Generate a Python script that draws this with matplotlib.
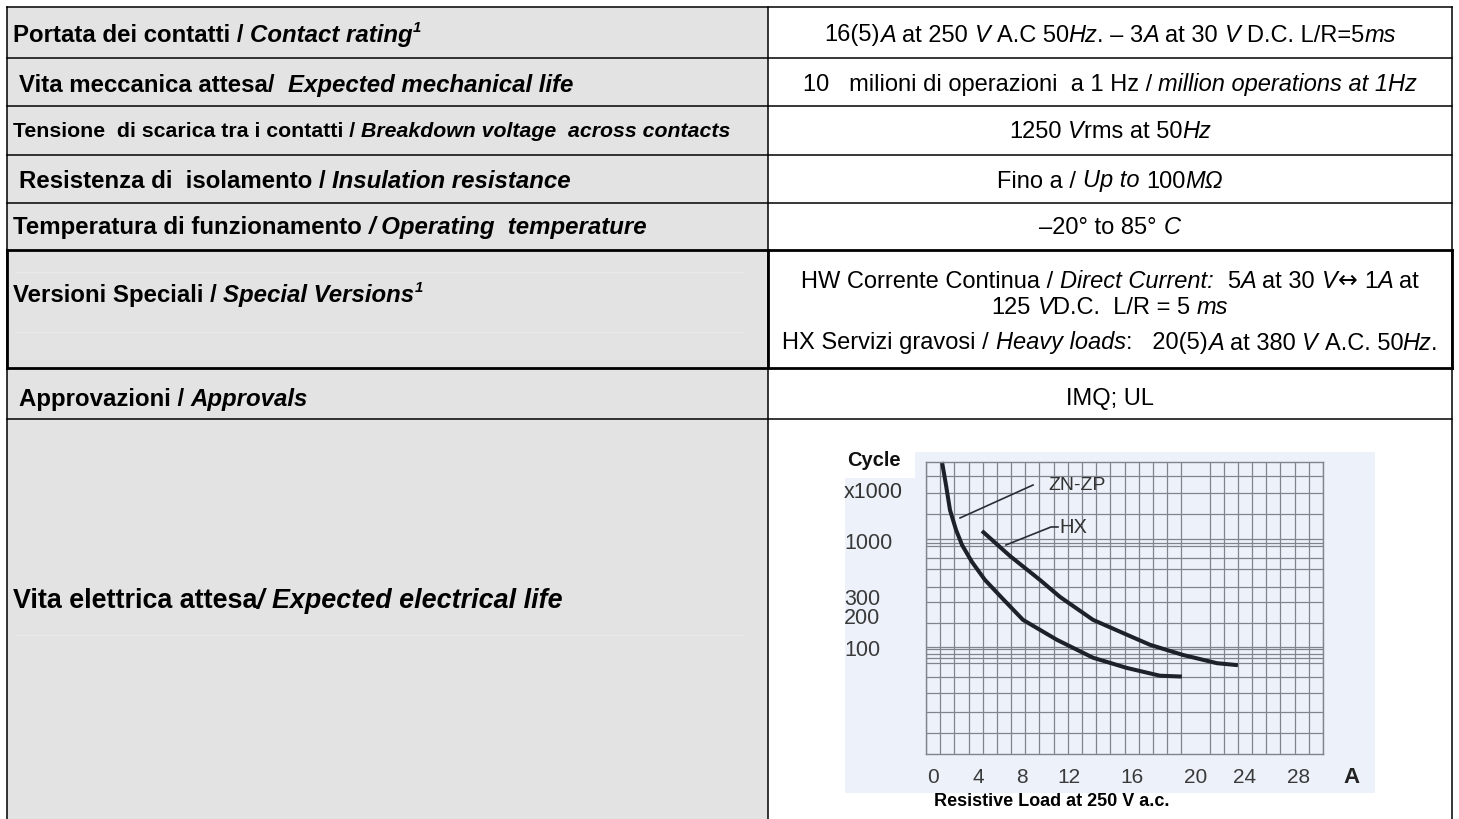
import matplotlib
matplotlib.use("Agg")
import matplotlib.pyplot as plt
from matplotlib.font_manager import FontProperties
from matplotlib.patches import Rectangle
from matplotlib.ticker import NullFormatter

FAM = ["Liberation Sans", "DejaVu Sans"]

# ---------------- table text (runs: text, style n=normal i=italic sup=superscript arr=symbol) ----------------
left_rows = [
    [("Portata dei contatti / ", "n"), ("Contact rating", "i"), ("1", "sup")],
    [("Vita meccanica attesa/  ", "n"), ("Expected mechanical life", "i")],
    [("Tensione  di scarica tra i contatti / ", "n"), ("Breakdown voltage  across contacts", "i")],
    [("Resistenza di  isolamento / ", "n"), ("Insulation resistance", "i")],
    [("Temperatura di funzionamento ", "n"), ("/ Operating  temperature", "i")],
    [("Versioni Speciali / ", "n"), ("Special Versions", "i"), ("1", "sup")],
    [("Approvazioni / ", "n"), ("Approvals", "i")],
    [("Vita elettrica attesa", "n"), ("/ Expected electrical life", "i")],
]

right_rows = [
    [[("16(5)", "n"), ("A", "i"), (" at 250 ", "n"), ("V", "i"), (" A.C 50", "n"), ("Hz", "i"),
      (". \u2013 3", "n"), ("A", "i"), (" at 30 ", "n"), ("V", "i"), (" D.C. L/R=5", "n"), ("ms", "i")]],
    [[("10   milioni di operazioni  a 1 Hz / ", "n"), ("million operations at 1Hz", "i")]],
    [[("1250 ", "n"), ("V", "i"), ("rms at 50", "n"), ("Hz", "i")]],
    [[("Fino a / ", "n"), ("Up to", "i"), (" 100", "n"), ("M\u03a9", "i")]],
    [[("\u201320\u00b0 to 85\u00b0 ", "n"), ("C", "i")]],
    [[("HW Corrente Continua / ", "n"), ("Direct Current:", "i"), ("  5", "n"), ("A", "i"),
      (" at 30 ", "n"), ("V", "i"), ("\u2194", "arr"), (" 1", "n"), ("A", "i"), (" at", "n")],
     [("125 ", "n"), ("V", "i"), ("D.C.  L/R = 5 ", "n"), ("ms", "i")],
     [("HX Servizi gravosi / ", "n"), ("Heavy loads", "i"), (":   20(5)", "n"), ("A", "i"),
      (" at 380 ", "n"), ("V", "i"), (" A.C. 50", "n"), ("Hz", "i"), (".", "n")]],
    [[("IMQ; UL", "n")]],
]

# ---------------- chart data (current in A, cycles x1000) ----------------
zn_current = [1.13, 1.41, 1.69, 2.12, 2.54, 3.24, 4.16, 5.36, 6.84, 9.24, 11.78, 14.17, 16.5, 18.05]
zn_cycles = [5470, 3335, 1950, 1267, 918, 637, 432, 293, 183, 119, 81, 65, 55, 54]
hx_current = [3.95, 5.92, 8.04, 9.45, 11.78, 14.39, 15.8, 18.12, 20.52, 22.0]
hx_cycles = [1240, 724, 432, 300, 183, 129, 107, 86, 72, 69]

x_tick_labels = ["0", "4", "8", "12", "16", "20", "24", "28"]
x_tick_pos = [0.5, 3.7, 6.8, 10.1, 14.5, 19.0, 22.5, 26.3]
y_tick_labels = ["1000", "300", "200", "100"]
y_tick_vals = [1000, 300, 200, 100]
h_grid = [4050, 2810, 1790, 1045, 1000, 958, 898, 694, 548, 372, 269, 171,
          102, 98, 88, 81, 73, 54, 38, 25, 16]

# curve callouts
zn_leader_x, zn_leader_y = [7.55, 2.40], [3334, 1640]
hx_leader_x, hx_leader_y = [9.31, 8.82, 5.64], [1351, 1351, 917]

# ---------------- layout ----------------
W, H = 1459, 819
row_edges = [7, 58, 106, 155, 203, 250, 368, 419, 819]
x_left, x_mid, x_right = 7, 768, 1452
left_x = [13, 19, 13, 19, 13, 13, 19, 13]
left_y = [33, 83, 129, 179, 225, 293, 397, 598]
left_size = [17.3, 17.3, 15.3, 17.3, 17.3, 17.3, 17.3, 19.4]
right_y = [[33], [83], [129], [179], [225], [279, 305, 341], [397]]
right_size = 17.0

fig = plt.figure(figsize=(W / 100, H / 100), dpi=100)
bg = fig.add_axes([0, 0, 1, 1])
bg.set_xlim(0, W)
bg.set_ylim(H, 0)
bg.axis("off")
renderer = fig.canvas.get_renderer()


def adv(s, fp):
    w1 = renderer.get_text_width_height_descent("|" + s + "|", fp, ismath=False)[0]
    w0 = renderer.get_text_width_height_descent("||", fp, ismath=False)[0]
    return w1 - w0


def draw_runs(x, y, runs, size, weight, align):
    em = size * 100 / 72
    pieces = []
    for s, st in runs:
        sz = size * 0.62 if st == "sup" else size
        fam = ["DejaVu Sans"] if st == "arr" else FAM
        fp = FontProperties(family=fam, size=sz, weight=weight,
                            style="italic" if st in ("i", "sup") else "normal")
        pieces.append((s, st, fp, adv(s, fp)))
    total = sum(p[3] for p in pieces)
    cx = x - total / 2 if align == "center" else x
    base = y + 0.36 * em
    for s, st, fp, w in pieces:
        lead = len(s) - len(s.lstrip(" "))
        off = adv(s[:lead], fp) if lead else 0
        dy = -0.42 * em if st == "sup" else 0
        if s.strip():
            bg.text(cx + off, base + dy, s.strip(), fontproperties=fp,
                    ha="left", va="baseline", color="black")
        cx += w


# table background and borders
bg.add_patch(Rectangle((x_left, row_edges[0]), x_mid - x_left, H - row_edges[0],
                       fc="#e3e3e3", ec="none"))
for yy in (272, 332, 635):
    bg.plot([x_left + 8, x_mid - 25], [yy, yy], color="#e9e9e9", lw=1)
for e in row_edges[:-1]:
    thick = e in (row_edges[5], row_edges[6])
    bg.plot([x_left, x_right], [e, e], color="black", lw=2 if thick else 1.1)
for xx in (x_left, x_mid, x_right):
    bg.plot([xx, xx], [row_edges[0], H], color="black", lw=1.1)
    bg.plot([xx, xx], [row_edges[5], row_edges[6]], color="black", lw=2)

for i, runs in enumerate(left_rows):
    draw_runs(left_x[i], left_y[i], runs, left_size[i], "bold", "left")

cx_right = (x_mid + x_right) / 2
for i, lines in enumerate(right_rows):
    for j, runs in enumerate(lines):
        draw_runs(cx_right, right_y[i][j], runs, right_size, "normal", "center")

# chart backdrop
bg.add_patch(Rectangle((915, 452), 460, 341, fc="#edf1f9", ec="none"))
bg.add_patch(Rectangle((845, 478), 70, 315, fc="#edf1f9", ec="none"))
bg.text(847, 460, "Cycle", family=FAM, weight="bold", fontsize=14.5, color="#111111",
        ha="left", va="center")
bg.text(844, 492, "x1000", family=FAM, fontsize=15.5, color="#333333", ha="left", va="center")
bg.text(1052, 802, "Resistive Load at 250 V a.c.", family=FAM, weight="bold", fontsize=13,
        color="black", ha="center", va="center")

# chart
ax = fig.add_axes([926 / W, (H - 754) / H, 397 / W, 292 / H])
ax.set_facecolor("#edf1f9")
ax.set_yscale("log")
ax.set_xlim(0, 28)
ax.set_ylim(10.2, 5470)
gc = "#7f848e"
ax.set_xticks(range(0, 29), minor=True)
ax.set_yticks(h_grid, minor=True)
ax.yaxis.set_minor_formatter(NullFormatter())
ax.grid(which="minor", color=gc, lw=0.9)
ax.grid(which="major", visible=False)
ax.set_xticks(x_tick_pos)
ax.set_xticklabels(x_tick_labels)
ax.set_yticks(y_tick_vals)
ax.set_yticklabels(y_tick_labels)
ax.tick_params(which="both", length=0)
ax.tick_params(axis="x", pad=10, labelsize=15, labelcolor="#3a3a3a")
ax.tick_params(axis="y", pad=59, labelsize=15.5, labelcolor="#3a3a3a")
for lbl in ax.get_yticklabels():
    lbl.set_horizontalalignment("left")
    lbl.set_family(FAM)
for lbl in ax.get_xticklabels():
    lbl.set_family(FAM)
for sp in ax.spines.values():
    sp.set_color(gc)
    sp.set_linewidth(1)

ax.plot(zn_current, zn_cycles, color="#1d2129", lw=2.9, clip_on=False, solid_capstyle="butt")
ax.plot(hx_current, hx_cycles, color="#1d2129", lw=2.9, clip_on=False, solid_capstyle="butt")
ax.plot(zn_leader_x, zn_leader_y, color="#2a2d33", lw=1.2)
ax.plot(hx_leader_x, hx_leader_y, color="#2a2d33", lw=1.2)
ax.text(10.65, 3334, "ZN-ZP", family=FAM, fontsize=14, color="#333333", ha="center", va="center")
ax.text(10.37, 1322, "HX", family=FAM, fontsize=14.5, color="#333333", ha="center", va="center")
ax.text(30.0, -0.082, "A", transform=ax.get_xaxis_transform(), family=FAM, weight="bold",
        fontsize=16, color="#222222", ha="center", va="center")

fig.savefig("out.png", dpi=100)
